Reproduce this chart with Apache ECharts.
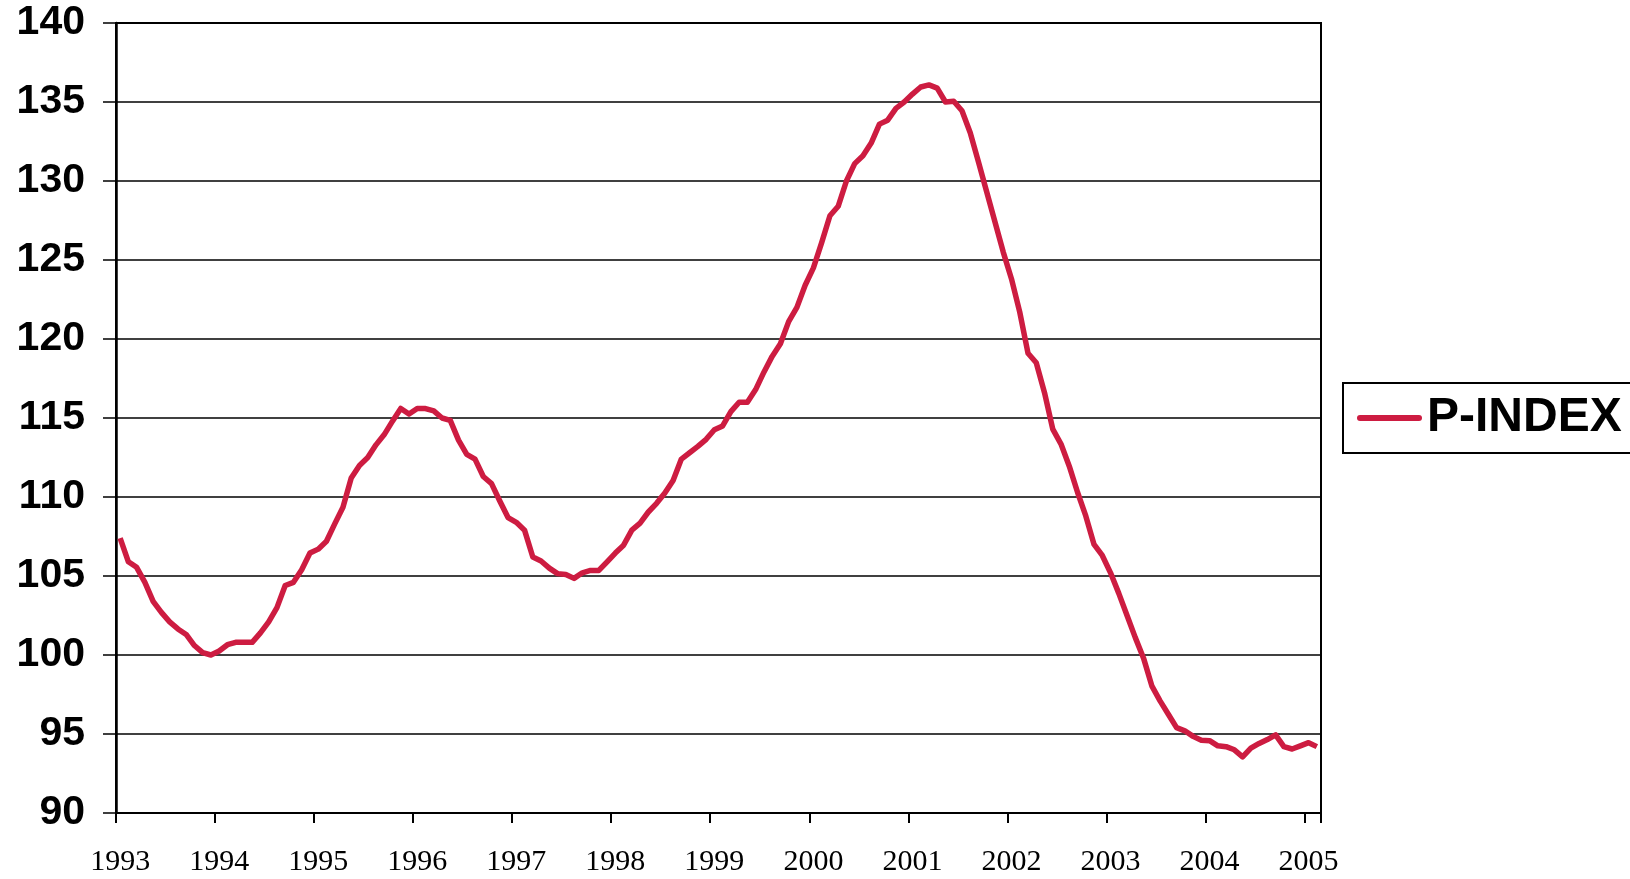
<!DOCTYPE html>
<html>
<head>
<meta charset="utf-8">
<script src="https://cdn.jsdelivr.net/npm/echarts@6/dist/echarts.min.js"></script>
<style>
html,body{margin:0;padding:0;background:#fff;}
#chart{width:1630px;height:879px;}
</style>
</head>
<body>
<div id="chart"></div>
<script>
// Tick labels (years) on the category axis
const yearLabels = ['1993','1994','1995','1996','1997','1998','1999','2000','2001','2002','2003','2004','2005'];
const monthLabels = ['01','02','03','04','05','06','07','08','09','10','11','12'];
// Series name
const seriesName = 'P-INDEX';
// Monthly values, Jan 1993 – Feb 2005
const pIndex = [
  107.4, 105.9, 105.55, 104.6, 103.4, 102.7, 102.1, 101.65, 101.3, 100.6, 100.15, 100.0,
  100.25, 100.65, 100.8, 100.8, 100.8, 101.4, 102.1, 103.0, 104.4, 104.6, 105.4, 106.45,
  106.7, 107.2, 108.3, 109.35, 111.2, 112.0, 112.5, 113.3, 113.95, 114.8, 115.6, 115.25,
  115.6, 115.6, 115.45, 115.0, 114.85, 113.6, 112.7, 112.4, 111.3, 110.85, 109.75, 108.7,
  108.4, 107.9, 106.2, 105.95, 105.5, 105.15, 105.1, 104.85, 105.2, 105.35, 105.35, 105.9,
  106.45, 106.95, 107.9, 108.35, 109.05, 109.6, 110.25, 111.05, 112.4, 112.8, 113.2, 113.65,
  114.26, 114.5, 115.4, 116.0, 116.0, 116.8, 117.9, 118.9, 119.7, 121.1, 122.0, 123.4,
  124.5, 126.1, 127.8, 128.4, 130.0, 131.1, 131.6, 132.4, 133.6, 133.85, 134.6, 135.0,
  135.5, 135.95, 136.08, 135.88, 135.0, 135.05, 134.45, 133.05, 131.2, 129.3, 127.4, 125.5,
  123.8, 121.7, 119.1, 118.5, 116.6, 114.3, 113.35, 111.95, 110.3, 108.8, 107.0, 106.3,
  105.2, 103.9, 102.5, 101.1, 99.8, 98.05, 97.1, 96.25, 95.4, 95.2, 94.85, 94.6,
  94.58, 94.25, 94.2, 94.0, 93.55, 94.1, 94.4, 94.65, 94.94, 94.2, 94.05, 94.25,
  94.45, 94.2
];
// Y axis range
const yMin = 90, yMax = 140, yStep = 5;

const categories = [];
for (const y of yearLabels) {
  for (const m of monthLabels) {
    if (categories.length < pIndex.length) categories.push(y + '-' + m);
  }
}

const chart = echarts.init(document.getElementById('chart'), null, {renderer: 'canvas'});
chart.setOption({
  animation: false,
  backgroundColor: '#ffffff',
  grid: {
    left: 116, right: 309, top: 23, bottom: 66,
    show: true, borderColor: '#000', borderWidth: 2, backgroundColor: 'transparent'
  },
  legend: {
    show: true,
    left: 1343, top: 383,
    orient: 'vertical',
    data: [seriesName],
    itemWidth: 59, itemHeight: 14,
    padding: [11, 10, 11, 14],
    borderColor: '#000', borderWidth: 2,
    itemStyle: {opacity: 0},
    lineStyle: {width: 6, cap: 'round'},
    textStyle: {
      fontFamily: 'Liberation Sans, Arial, sans-serif',
      fontWeight: 'bold', fontSize: 48, color: '#000', lineHeight: 48,
      padding: [0, 0, 0, 3]
    }
  },
  xAxis: {
    type: 'category',
    data: categories,
    boundaryGap: true,
    axisLine: {show: true, lineStyle: {color: '#000', width: 2}},
    axisTick: {show: true, interval: 11, length: 10, lineStyle: {color: '#000', width: 2}},
    axisLabel: {
      interval: 11,
      margin: 34,
      formatter: v => v.slice(0, 4),
      fontFamily: 'Liberation Serif, Times New Roman, serif',
      fontSize: 30, color: '#000'
    },
    splitLine: {show: false}
  },
  yAxis: {
    type: 'value',
    min: yMin, max: yMax, interval: yStep,
    axisLine: {show: true, lineStyle: {color: '#000', width: 2.5}},
    axisTick: {show: true, length: 13, lineStyle: {color: '#000', width: 1.5}},
    axisLabel: {
      margin: 31,
      fontFamily: 'Liberation Sans, Arial, sans-serif',
      fontWeight: 'bold', fontSize: 41, color: '#000'
    },
    splitLine: {show: true, lineStyle: {color: '#000', width: 1.5}}
  },
  series: [{
    name: seriesName,
    type: 'line',
    data: pIndex,
    symbol: 'none',
    showSymbol: false,
    lineStyle: {color: '#CD1C41', width: 5.5, join: 'round'},
    itemStyle: {color: '#CD1C41'}
  }]
});
</script>
</body>
</html>
